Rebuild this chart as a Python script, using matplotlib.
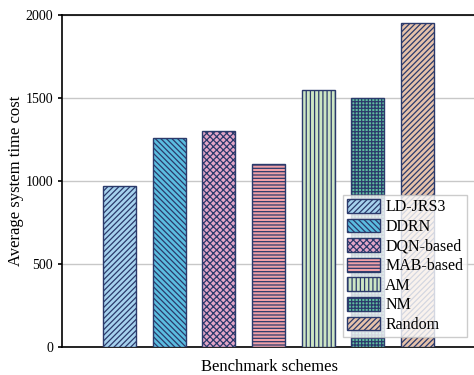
import matplotlib
matplotlib.use("Agg")
import matplotlib.pyplot as plt

schemes = ["LD-JRS3", "DDRN", "DQN-based", "MAB-based", "AM", "NM", "Random"]
costs = [967, 1260, 1300, 1100, 1550, 1500, 1950]
colors = ["#a6d2ee", "#5bbde0", "#e4a6c8", "#f0a0a8", "#cde6c4", "#5fbfa0", "#e6c2aa"]
hatches = ["//////", "\\\\\\\\\\\\", "xxxxx", "-----", "||||", "+++++", "//////"]
yticks = [0, 500, 1000, 1500, 2000]

plt.rcParams["font.family"] = ["Liberation Serif", "DejaVu Serif"]
plt.rcParams["hatch.linewidth"] = 0.9

fig = plt.figure(figsize=(4.74, 3.75), dpi=100)
ax = fig.add_axes([0.131, 0.075, 0.875, 0.885])

edge = "#2b3a6b"
for i, (s, v, c, h) in enumerate(zip(schemes, costs, colors, hatches)):
    ax.bar(i, v, width=0.667, color=c, edgecolor=edge, hatch=h, linewidth=1.0,
           label=s, zorder=3)

ax.set_xlim(-1.16, 7.2)
ax.set_ylim(0, 2000)
ax.set_yticks(yticks)
ax.set_xticks([])
ax.yaxis.grid(True, color="#c8c8c8", linewidth=1.0, zorder=0)
ax.spines["right"].set_visible(False)
for sp in ["left", "top", "bottom"]:
    ax.spines[sp].set_linewidth(1.2)
ax.tick_params(axis="y", direction="out", length=3, width=1.2, labelsize=10, pad=3.4)
ax.set_ylabel("Average system time cost", fontsize=12)
ax.set_xlabel("Benchmark schemes", fontsize=12)
ax.yaxis.set_label_coords(-0.092, 0.5)
ax.xaxis.set_label_coords(0.5, -0.036)

leg = ax.legend(loc="lower right", bbox_to_anchor=(0.9765, 0.03), fontsize=11.5,
                frameon=True, fancybox=False, edgecolor="#c0c0c0",
                handlelength=2.1, handleheight=0.95, handletextpad=0.3,
                labelspacing=0.2, borderpad=0.25, borderaxespad=0.0)
leg.get_frame().set_linewidth(1.0)
leg.set_zorder(5)

fig.savefig("out.png", dpi=100)
